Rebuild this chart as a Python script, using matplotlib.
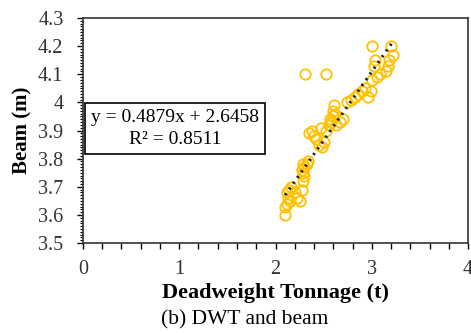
import numpy as np
import matplotlib
matplotlib.use("Agg")
import matplotlib.pyplot as plt
from matplotlib.ticker import MultipleLocator, FuncFormatter

# DWT (t) vs beam (m)
dwt = [2.10, 2.10, 2.12, 2.13, 2.15, 2.25, 2.22, 2.14, 2.16, 2.20, 2.27, 2.28,
       2.29, 2.30, 2.33, 2.34, 2.30, 2.12, 2.27, 2.29,
       2.35, 2.38, 2.40, 2.42, 2.45, 2.48, 2.50, 2.47, 2.52, 2.55, 2.58, 2.60,
       2.60, 2.61, 2.57, 2.63, 2.67, 2.70, 2.74, 2.78, 2.82, 2.86, 2.90, 2.93,
       2.96, 2.99, 2.62,
       3.00, 3.02, 3.03, 3.00, 3.05, 3.08, 3.15, 3.17, 3.20, 3.22, 3.18,
       2.31, 2.52]
beam = [3.60, 3.63, 3.64, 3.66, 3.65, 3.65, 3.66, 3.69, 3.70, 3.68, 3.69, 3.72,
        3.75, 3.77, 3.78, 3.79, 3.74, 3.68, 3.76, 3.78,
        3.89, 3.90, 3.88, 3.87, 3.85, 3.84, 3.86, 3.91, 3.90, 3.92, 3.93, 3.95,
        3.97, 3.99, 3.94, 3.92, 3.93, 3.94, 4.00, 4.01, 4.02, 4.03, 4.04, 4.05,
        4.02, 4.04, 3.96,
        4.08, 4.13, 4.15, 4.20, 4.09, 4.10, 4.11, 4.13, 4.20, 4.17, 4.15,
        4.10, 4.10]

slope, intercept, r2 = 0.4879, 2.6458, 0.8511

plt.rcParams["font.family"] = ["Liberation Serif", "DejaVu Serif"]

fig = plt.figure(figsize=(4.71, 3.33), dpi=100)
ax = fig.add_axes([0.176, 0.270, 0.818, 0.676])

ax.plot(dwt, beam, "o", mfc="none", mec="#FFC000", ms=7.5, mew=1.3, zorder=2)

# linear trendline over the data range
xs = np.array([min(dwt), max(dwt)])
ax.plot(xs, slope * xs + intercept, color="#222222", lw=2.2,
        linestyle=(0, (0.7, 1.6)), zorder=3)

ax.text(0.955, 3.907, f"y = {slope}x + {intercept}\nR² = {r2}",
        ha="center", va="center", fontsize=14, linespacing=1.4,
        bbox=dict(boxstyle="square,pad=0.3", fc="white", ec="black", lw=1.2),
        zorder=4)

ax.set_xlim(0, 4)
ax.set_ylim(3.5, 4.3)
ax.xaxis.set_major_locator(MultipleLocator(1))
ax.xaxis.set_minor_locator(MultipleLocator(0.2))
ax.yaxis.set_major_locator(MultipleLocator(0.1))
ax.yaxis.set_minor_locator(MultipleLocator(0.01))
ax.yaxis.set_major_formatter(FuncFormatter(lambda v, p: f"{v:.1f}".rstrip("0").rstrip(".")))

ax.tick_params(axis="both", which="major", direction="out", length=4, width=1,
               labelsize=14.5, colors="black", labelcolor="#333333")
ax.tick_params(axis="x", which="major", pad=8)
ax.tick_params(axis="y", which="major", pad=10)
ax.tick_params(axis="x", which="minor", direction="out", length=4, width=1)
ax.tick_params(axis="y", which="minor", direction="out", length=2.5, width=0.8)
for s in ax.spines.values():
    s.set_linewidth(1.2)
    s.set_color("#333333")

ax.set_xlabel("Deadweight Tonnage (t)", fontsize=16, fontweight="bold", labelpad=3)
ax.set_ylabel("Beam (m)", fontsize=15, fontweight="bold", labelpad=4)

fig.text(0.52, 0.04, "(b) DWT and beam", ha="center", va="center", fontsize=15.5)

fig.savefig("out.png", dpi=100)
